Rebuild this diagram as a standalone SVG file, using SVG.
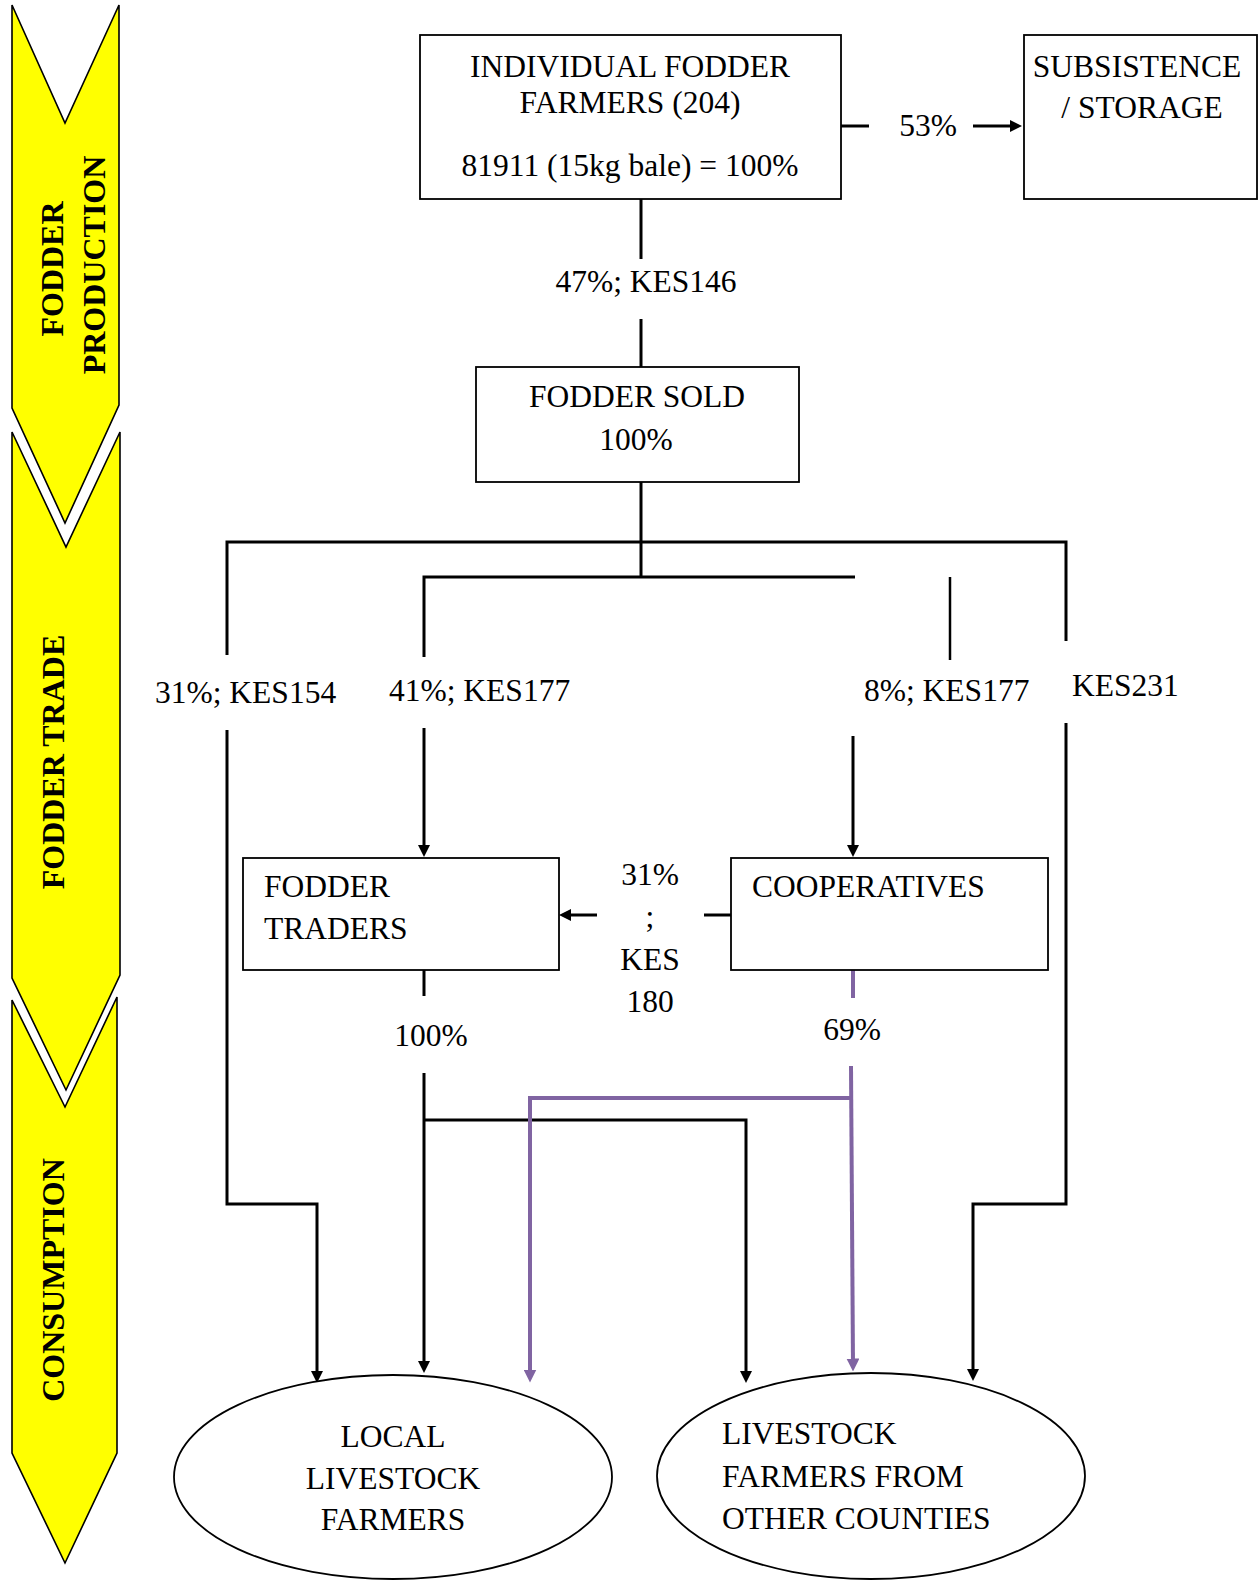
<svg xmlns="http://www.w3.org/2000/svg" width="1259" height="1580" viewBox="0 0 1259 1580">
<style>
.t{font-family:"Liberation Serif","Times New Roman",serif;font-size:31.5px;fill:#000}
.c{text-anchor:middle}
.band{fill:#FFFF00;stroke:#000;stroke-width:1.6;stroke-linejoin:miter}
.bt{font-family:"Liberation Serif","Times New Roman",serif;font-size:32px;font-weight:bold;fill:#000;text-anchor:middle}
.box{fill:#fff;stroke:#000;stroke-width:1.8}
.ln{fill:none;stroke:#000;stroke-width:3}
.lnp{fill:none;stroke:#8064A2;stroke-width:4}
</style>
<defs>
<marker id="ah" viewBox="0 0 10 10" refX="5" refY="5" markerWidth="12" markerHeight="12" markerUnits="userSpaceOnUse" orient="auto"><path d="M0,0 L10,5 L0,10 z" fill="#000"/></marker>
<marker id="ahp" viewBox="0 0 10 10" refX="5" refY="5" markerWidth="13" markerHeight="13" markerUnits="userSpaceOnUse" orient="auto"><path d="M0,0 L10,5 L0,10 z" fill="#8064A2"/></marker>
</defs>
<rect width="1259" height="1580" fill="#fff"/>

<g id="stage-production">
<polygon class="band" points="12,5 65,123 119,5 119,405 65,523 12,408"/>
<text class="bt" transform="translate(63,269) rotate(-90)">FODDER</text>
<text class="bt" transform="translate(105,265) rotate(-90)">PRODUCTION</text>
</g>
<g id="stage-trade">
<polygon class="band" points="12,432 66,547 120,432 120,975 66,1090 12,978"/>
<text class="bt" transform="translate(64,762) rotate(-90)">FODDER TRADE</text>
</g>
<g id="stage-consumption">
<polygon class="band" points="12,1000 65,1107 117,997 117,1453 65,1563 12,1453"/>
<text class="bt" transform="translate(64,1280) rotate(-90)">CONSUMPTION</text>
</g>

<g id="connectors">
<line class="ln" x1="841" y1="126" x2="869" y2="126"/>
<line class="ln" x1="973" y1="126" x2="1016" y2="126" marker-end="url(#ah)"/>
<line class="ln" x1="641" y1="199" x2="641" y2="259"/>
<line class="ln" x1="641" y1="319" x2="641" y2="367"/>
<line class="ln" x1="641" y1="482" x2="641" y2="577"/>
<path class="ln" d="M227,655 V542 H1066 V641"/>
<path class="ln" d="M424,657 V577 H855"/>
<line class="ln" x1="950" y1="577" x2="950" y2="660" style="stroke-width:2.5"/>
<path class="ln" d="M227,730 V1204 H317 V1377" marker-end="url(#ah)"/>
<path class="ln" d="M424,728 V851" marker-end="url(#ah)"/>
<path class="ln" d="M853,736 V851" marker-end="url(#ah)"/>
<path class="ln" d="M1066,723 V1204 H973 V1375" marker-end="url(#ah)"/>
<line class="ln" x1="731" y1="915" x2="704" y2="915"/>
<line class="ln" x1="597" y1="915" x2="565" y2="915" marker-end="url(#ah)"/>
<line class="ln" x1="424" y1="970" x2="424" y2="996"/>
<path class="ln" d="M424,1073 V1367" marker-end="url(#ah)"/>
<path class="ln" d="M424,1120 H746 V1377" marker-end="url(#ah)"/>
<line class="lnp" x1="853" y1="970" x2="853" y2="998"/>
<path class="lnp" d="M851,1066 L853,1365" marker-end="url(#ahp)"/>
<path class="lnp" d="M851,1098 H530 V1376" marker-end="url(#ahp)"/>
<text class="t c" x="928" y="136">53%</text>
<text class="t c" x="646" y="292">47%; KES146</text>
<text class="t" x="155" y="703">31%; KES154</text>
<text class="t" x="389" y="701">41%; KES177</text>
<text class="t" x="864" y="701">8%; KES177</text>
<text class="t" x="1072" y="696">KES231</text>
<text class="t c" x="650" y="885">31%</text>
<text class="t c" x="650" y="927">;</text>
<text class="t c" x="650" y="970">KES</text>
<text class="t c" x="650" y="1012">180</text>
<text class="t c" x="431" y="1046">100%</text>
<text class="t c" x="852" y="1040">69%</text>
</g>

<g id="individual-fodder-farmers">
<rect class="box" x="420" y="35" width="421" height="164"/>
<text class="t c" x="630" y="77">INDIVIDUAL FODDER</text>
<text class="t c" x="630" y="113">FARMERS (204)</text>
<text class="t c" x="630" y="176">81911 (15kg bale) = 100%</text>
</g>
<g id="subsistence-storage">
<rect class="box" x="1024" y="35" width="233" height="164"/>
<text class="t c" x="1137" y="77">SUBSISTENCE</text>
<text class="t c" x="1142" y="118">/ STORAGE</text>
</g>
<g id="fodder-sold">
<rect class="box" x="476" y="367" width="323" height="115"/>
<text class="t c" x="637" y="407">FODDER SOLD</text>
<text class="t c" x="636" y="450">100%</text>
</g>
<g id="fodder-traders">
<rect class="box" x="243" y="858" width="316" height="112"/>
<text class="t" x="264" y="897">FODDER</text>
<text class="t" x="264" y="939">TRADERS</text>
</g>
<g id="cooperatives">
<rect class="box" x="731" y="858" width="317" height="112"/>
<text class="t" x="752" y="897">COOPERATIVES</text>
</g>
<g id="local-livestock-farmers">
<ellipse class="box" cx="393" cy="1477" rx="219" ry="102"/>
<text class="t c" x="393" y="1447">LOCAL</text>
<text class="t c" x="393" y="1489">LIVESTOCK</text>
<text class="t c" x="393" y="1530">FARMERS</text>
</g>
<g id="livestock-farmers-other-counties">
<ellipse class="box" cx="871" cy="1476" rx="214" ry="103"/>
<text class="t" x="722" y="1444">LIVESTOCK</text>
<text class="t" x="722" y="1487">FARMERS FROM</text>
<text class="t" x="722" y="1529">OTHER COUNTIES</text>
</g>
</svg>
